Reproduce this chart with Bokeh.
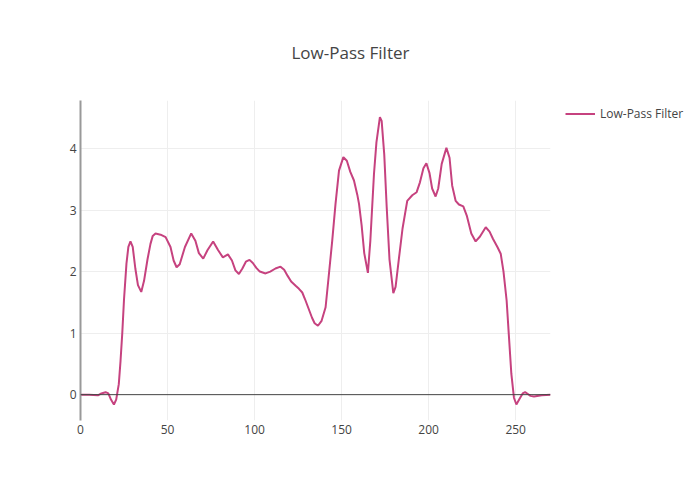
from bokeh.plotting import figure
from bokeh.models import Range1d, Span, Legend, LegendItem, FixedTicker
from bokeh.embed import file_html
from bokeh.resources import INLINE

# data
x_vals = [0, 5, 10, 12, 14.4, 16, 17.5, 19.2, 20.5, 22, 23, 24, 25, 26.4, 27.5, 28.7, 30, 31.5, 33,
          34.9, 36.5, 38.5, 40.2, 41.5, 43.1, 46, 48.9, 51.7, 53.5, 55.2, 57, 60, 63.6, 66, 68, 70.5,
          73, 76.2, 79, 81.8, 84.7, 87, 89, 91, 93, 95, 97.1, 99, 101, 103, 106.3, 109, 112, 114.9,
          117, 119, 121, 123.6, 125.5, 127.4, 129, 131, 133, 134.5, 136.4, 138.5, 140.8, 142.5,
          144.6, 146.5, 148.5, 151, 153, 155, 157.1, 159, 160, 161.5, 163, 165.1, 166.5, 168.6,
          170, 172, 173, 174.5, 175.9, 177.5, 179.7, 181, 183, 185, 187.7, 190.6, 193.1, 195, 197,
          198.7, 200.5, 202, 204, 205.5, 207.5, 210.2, 212, 213.5, 215.5, 217.4, 219.9, 222, 224.5,
          227, 229.5, 232.8, 235, 237, 239.5, 241.4, 243, 244.8, 246, 247.5, 249, 250.4, 252, 254,
          255.4, 257, 258.5, 260.5, 265, 270]
y_vals = [0, 0, -0.01, 0.02, 0.04, 0.02, -0.08, -0.16, -0.08, 0.17, 0.55, 1.0, 1.55, 2.13, 2.4, 2.49,
          2.4, 2.05, 1.78, 1.67, 1.85, 2.2, 2.45, 2.58, 2.62, 2.6, 2.56, 2.40, 2.18, 2.07, 2.12, 2.4,
          2.62, 2.5, 2.3, 2.21, 2.35, 2.49, 2.35, 2.23, 2.28, 2.18, 2.02, 1.96, 2.05, 2.16, 2.19, 2.14,
          2.06, 2.0, 1.97, 2.0, 2.05, 2.08, 2.03, 1.93, 1.84, 1.77, 1.72, 1.66, 1.55, 1.40, 1.25, 1.16,
          1.12, 1.2, 1.42, 1.9, 2.50, 3.1, 3.64, 3.86, 3.8, 3.62, 3.48, 3.25, 3.10, 2.75, 2.3, 1.98,
          2.5, 3.59, 4.1, 4.51, 4.45, 3.9, 3.05, 2.2, 1.65, 1.75, 2.23, 2.7, 3.15, 3.24, 3.29, 3.45,
          3.68, 3.76, 3.6, 3.35, 3.22, 3.35, 3.75, 4.01, 3.85, 3.4, 3.15, 3.09, 3.06, 2.9, 2.62, 2.49,
          2.57, 2.72, 2.65, 2.53, 2.40, 2.29, 2.0, 1.53, 1.0, 0.34, -0.05, -0.16, -0.08, 0.02, 0.04,
          0.01, -0.02, -0.03, -0.01, 0]
x_ticks = [0, 50, 100, 150, 200, 250]
y_ticks = [0, 1, 2, 3, 4]
series_name = "Low-Pass Filter"
title_text = "Low-Pass Filter"

FONT = "Open Sans"
TXT = "#444444"

p = figure(width=700, height=500, frame_width=470, frame_height=320,
           output_backend="svg", toolbar_location=None,
           x_range=Range1d(0, 270), y_range=Range1d(-0.42, 4.78),
           min_border_left=80, min_border_right=150, min_border_top=100, min_border_bottom=80)
p.outline_line_color = None
p.background_fill_color = "white"
p.border_fill_color = "white"

p.title.text = title_text
p.title.align = "left"
p.title.offset = 211
p.title.standoff = 74
p.title.text_font = FONT
p.title.text_font_size = "17px"
p.title.text_font_style = "normal"
p.title.text_color = TXT

for ax in (p.xaxis[0], p.yaxis[0]):
    ax.major_tick_in = 0
    ax.major_tick_out = 0
    ax.minor_tick_in = 0
    ax.minor_tick_out = 0
    ax.major_label_text_font = FONT
    ax.major_label_text_font_size = "12px"
    ax.major_label_text_color = TXT
    ax.major_label_standoff = 4

p.xaxis.ticker = FixedTicker(ticks=x_ticks)
p.yaxis.ticker = FixedTicker(ticks=y_ticks)
p.xaxis.axis_line_color = None
p.yaxis.axis_line_color = "#999999"
p.yaxis.axis_line_width = 2

p.xgrid.ticker = FixedTicker(ticks=x_ticks)
p.ygrid.ticker = FixedTicker(ticks=[1, 2, 3, 4])
p.xgrid.grid_line_color = "#eeeeee"
p.ygrid.grid_line_color = "#eeeeee"

p.add_layout(Span(location=0, dimension="width", line_color="#444444", line_width=1))

r = p.line(x_vals, y_vals, line_color="#c6427f", line_width=2)

legend = Legend(items=[LegendItem(label=series_name, renderers=[r])],
                location=(15, 298), padding=0, margin=0, spacing=0,
                glyph_width=30, glyph_height=17, label_standoff=5,
                border_line_color=None, background_fill_alpha=0,
                label_text_font=FONT, label_text_font_size="12px", label_text_color=TXT)
p.add_layout(legend, "right")

open("out.html", "w").write(file_html(p, INLINE))
